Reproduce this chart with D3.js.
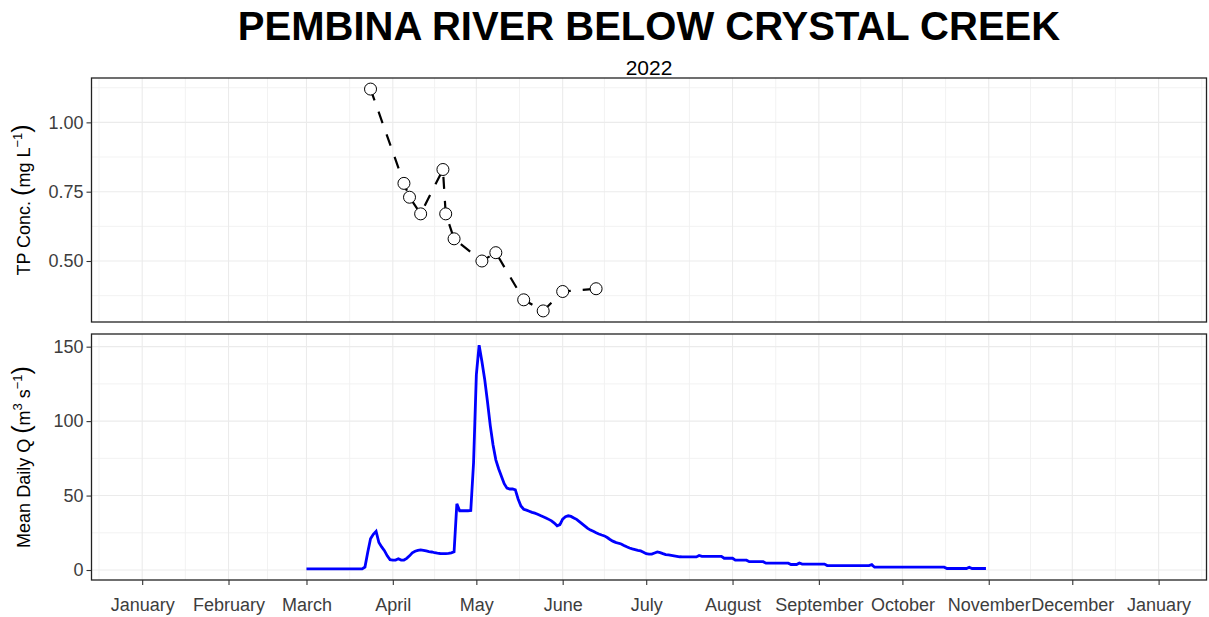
<!DOCTYPE html>
<html>
<head>
<meta charset="utf-8">
<script src="https://cdn.jsdelivr.net/npm/d3@7"></script>
<style>
body { margin: 0; background: #fff; }
svg { font-family: 'Liberation Sans', Arial, sans-serif; background: #fff; }
.axis path { display: none; }
.axis line { stroke: #333; stroke-width: 1.1; }
.axis text { font-size: 18px; fill: #3d3d3d; }
.grid-major { stroke: #ebebeb; stroke-width: 1.1; }
.grid-minor { stroke: #f0f0f0; stroke-width: 0.9; }
</style>
</head>
<body>
<svg id="chart"></svg>
<script>
// TP samples
const tpDates = ['2022-03-24', '2022-04-05', '2022-04-07', '2022-04-11', '2022-04-19', '2022-04-20', '2022-04-23',
                 '2022-05-03', '2022-05-08', '2022-05-18', '2022-05-25', '2022-06-01', '2022-06-13']
const tpConc = [1.12, 0.78, 0.73, 0.67, 0.83, 0.67, 0.58, 0.50, 0.53, 0.36, 0.32, 0.39, 0.40]

// mean daily flow, one value per day starting 1 March
const flowStart = '2022-03-01'
const flowMar = [0.8, 0.8, 0.8, 0.8, 0.8, 0.8, 0.8, 0.8, 0.8, 0.8, 0.8, 0.8, 0.8, 0.8, 0.8, 0.8, 0.8, 0.8, 0.8, 0.8,
                 0.8, 2, 12, 21, 24, 26, 18.5, 15.5, 13, 9.5, 7]
const flowApr = [6.7, 6.7, 7.6, 6.7, 6.7, 7.8, 9.5, 11.5, 12.6, 13.2, 13.5, 13.2, 12.8, 12.4, 12.1, 11.6, 11.3, 11.1, 11.0, 11.0,
                 11.2, 11.5, 12.2, 44.5, 39.8, 39.8, 39.8, 39.8, 40.0, 72]
const flowMay = [131, 151, 140, 128, 113, 97, 84, 74, 68, 63, 58, 55, 54.4, 54.4, 53.8, 47.7, 43, 40.8, 40.2, 39.5,
                 38.7, 38.2, 37.5, 36.6, 35.8, 35, 34, 33, 31.5, 29.7, 30.5]
const flowJun = [34.2, 35.8, 36.4, 36.0, 35.0, 34.0, 32.5, 31.0, 29.5, 28.0, 26.8, 26.0, 25.0, 24.2, 23.5, 22.9, 21.8, 20.5, 19.4, 18.6,
                 18.0, 17.5, 16.5, 15.6, 14.8, 14.2, 13.7, 13.2, 12.8, 12.0]
const flowJul = [11.0, 10.7, 10.7, 11.4, 12.1, 11.7, 11.0, 10.4, 10.1, 9.8, 9.5, 9.2, 8.9, 8.8, 8.8, 8.8, 8.8, 8.8, 8.8, 9.8,
                 9.2, 9.2, 9.2, 9.2, 9.2, 9.2, 9.2, 9.2, 7.9, 7.9, 7.9]
const flowAug = [7.9, 6.6, 6.6, 6.6, 6.6, 6.6, 5.6, 5.6, 5.6, 5.6, 5.6, 5.6, 4.6, 4.6, 4.6, 4.6, 4.6, 4.6, 4.6, 4.6,
                 4.6, 3.7, 3.7, 3.7, 4.7, 4.0, 4.0, 4.0, 4.0, 4.0, 4.0]
const flowSep = [4.0, 4.0, 4.0, 3.0, 3.0, 3.0, 3.0, 3.0, 3.0, 3.0, 3.0, 3.0, 3.0, 3.0, 3.0, 3.0, 3.0, 3.0, 3.0, 3.6,
                 1.9, 1.9, 1.9, 1.9, 1.9, 1.9, 1.9, 1.9, 1.9, 1.9]
const flowOct = [1.9, 1.9, 1.9, 1.9, 1.9, 1.9, 1.9, 1.9, 1.9, 1.9, 1.9, 1.9, 1.9, 1.9, 1.9, 1.9,
                 1.0, 1.0, 1.0, 1.0, 1.0, 1.0, 1.0, 1.0, 1.8, 1.0, 1.0, 1.0, 1.0, 1.0, 1.0]

const monthLabels = ['January', 'February', 'March', 'April', 'May', 'June', 'July', 'August',
                     'September', 'October', 'November', 'December', 'January']
const xLimits = ['2022-01-01', '2022-12-31']
const tpTicks = [0.50, 0.75, 1.00]
const qTicks = [0, 50, 100, 150]

let W = 1209, H = 617
let pan = {left: 91.5, right: 1206.5}
let topP = {top: 78, bottom: 322}
let botP = {top: 334, bottom: 580}

let parse = d3.utcParse('%Y-%m-%d')
let xScale, yTop, yBot

// ggplot style 5% padding
function expand(lo, hi) {
    let r = (hi - lo) * 0.05
    return [lo - r, hi + r]
}

let tp = tpDates.map((d, i) => ({date: parse(d), value: tpConc[i]}))
let flowAll = [].concat(flowMar, flowApr, flowMay, flowJun, flowJul, flowAug, flowSep, flowOct)
let flow = flowAll.map((v, i) => ({date: d3.utcDay.offset(parse(flowStart), i), value: v}))

function createScales() {
    let lim = xLimits.map(parse)
    let xd = expand(+lim[0], +lim[1]).map(t => new Date(t))
    xScale = d3.scaleUtc().domain(xd).range([pan.left, pan.right])
    yTop = d3.scaleLinear().domain(expand(d3.min(tpConc), d3.max(tpConc))).range([topP.bottom, topP.top])
    yBot = d3.scaleLinear().domain(expand(d3.min(flowAll), d3.max(flowAll))).range([botP.bottom, botP.top])
}

createScales()

let svg = d3.select('#chart').attr('width', W).attr('height', H)

// month breaks + minor breaks halfway between
let majors = d3.utcMonth.range(parse('2021-12-01'), parse('2023-03-01'))
let minors = []
for (let i = 0; i < majors.length - 1; i++) {
    minors.push(new Date((+majors[i] + +majors[i + 1]) / 2))
}
let xDom = xScale.domain()
let inX = d => d >= xDom[0] && d <= xDom[1]
let xMajor = majors.filter(inX)
let xMinor = minors.filter(inX)

function drawGrid(p, y, ticks) {
    let g = svg.append('g')
    let yd = y.domain()
    let yMinor = []
    for (let i = 0; i < ticks.length - 1; i++) yMinor.push((ticks[i] + ticks[i + 1]) / 2)
    let step = ticks[1] - ticks[0]
    yMinor.push(ticks[0] - step / 2, ticks[ticks.length - 1] + step / 2)
    yMinor = yMinor.filter(v => v >= yd[0] && v <= yd[1])

    g.selectAll('.hmin').data(yMinor).enter().append('line')
        .attr('class', 'grid-minor')
        .attr('x1', pan.left).attr('x2', pan.right)
        .attr('y1', d => y(d)).attr('y2', d => y(d))
    g.selectAll('.vmin').data(xMinor).enter().append('line')
        .attr('class', 'grid-minor')
        .attr('x1', d => xScale(d)).attr('x2', d => xScale(d))
        .attr('y1', p.top).attr('y2', p.bottom)
    g.selectAll('.hmaj').data(ticks).enter().append('line')
        .attr('class', 'grid-major')
        .attr('x1', pan.left).attr('x2', pan.right)
        .attr('y1', d => y(d)).attr('y2', d => y(d))
    g.selectAll('.vmaj').data(xMajor).enter().append('line')
        .attr('class', 'grid-major')
        .attr('x1', d => xScale(d)).attr('x2', d => xScale(d))
        .attr('y1', p.top).attr('y2', p.bottom)
}

function drawBorder(p) {
    svg.append('rect')
        .attr('x', pan.left).attr('y', p.top)
        .attr('width', pan.right - pan.left).attr('height', p.bottom - p.top)
        .attr('fill', 'none').attr('stroke', '#222').attr('stroke-width', 1.3)
}

// top panel: TP concentration
drawGrid(topP, yTop, tpTicks)

let tpLine = d3.line().x(d => xScale(d.date)).y(d => yTop(d.value))
svg.append('path')
    .datum(tp)
    .attr('d', tpLine)
    .attr('fill', 'none')
    .attr('stroke', 'black')
    .attr('stroke-width', 2.2)
    .attr('stroke-dasharray', '12,12')

svg.selectAll('.tp-pt')
    .data(tp)
    .enter().append('circle')
    .attr('class', 'tp-pt')
    .attr('cx', d => xScale(d.date))
    .attr('cy', d => yTop(d.value))
    .attr('r', 6)
    .attr('fill', 'white')
    .attr('stroke', 'black')
    .attr('stroke-width', 1)

drawBorder(topP)

svg.append('g')
    .attr('class', 'axis')
    .attr('transform', `translate(${pan.left},0)`)
    .call(d3.axisLeft(yTop).tickValues(tpTicks).tickFormat(d3.format('.2f')).tickSize(5).tickPadding(3))

// bottom panel: flow
drawGrid(botP, yBot, qTicks)

let qLine = d3.line().x(d => xScale(d.date)).y(d => yBot(d.value))
svg.append('path')
    .datum(flow)
    .attr('d', qLine)
    .attr('fill', 'none')
    .attr('stroke', '#0000ff')
    .attr('stroke-width', 2.8)

drawBorder(botP)

svg.append('g')
    .attr('class', 'axis')
    .attr('transform', `translate(${pan.left},0)`)
    .call(d3.axisLeft(yBot).tickValues(qTicks).tickFormat(d3.format('d')).tickSize(5).tickPadding(3))

svg.append('g')
    .attr('class', 'axis')
    .attr('transform', `translate(0,${botP.bottom})`)
    .call(d3.axisBottom(xScale).tickValues(xMajor).tickFormat((d, i) => monthLabels[i]).tickSize(5).tickPadding(13))

// titles
svg.append('text')
    .attr('x', (pan.left + pan.right) / 2).attr('y', 40)
    .attr('text-anchor', 'middle')
    .style('font-size', '40px').style('font-weight', 'bold')
    .text('PEMBINA RIVER BELOW CRYSTAL CREEK')

svg.append('text')
    .attr('x', (pan.left + pan.right) / 2).attr('y', 75)
    .attr('text-anchor', 'middle')
    .style('font-size', '21px')
    .text('2022')

// y axis titles with big parens + superscripts
function yTitle(cy, parts) {
    let t = svg.append('text')
        .attr('transform', `translate(30,${cy}) rotate(-90)`)
        .attr('text-anchor', 'middle')
        .style('font-size', '18px')
        .attr('fill', 'black')
    parts.forEach(p => {
        let s = t.append('tspan').text(p.t)
        if (p.big) s.style('font-size', '25px')
        if (p.sup) s.style('font-size', '13px').attr('dy', -8)
        if (p.down) s.attr('dy', 8)
    })
}

yTitle((topP.top + topP.bottom) / 2, [
    {t: 'TP Conc. '}, {t: '(', big: true}, {t: 'mg L'}, {t: '\u22121', sup: true}, {t: ')', big: true, down: true}
])
yTitle((botP.top + botP.bottom) / 2, [
    {t: 'Mean Daily Q '}, {t: '(', big: true}, {t: 'm'}, {t: '3', sup: true}, {t: ' s', down: true},
    {t: '\u22121', sup: true}, {t: ')', big: true, down: true}
])
</script>
</body>
</html>
